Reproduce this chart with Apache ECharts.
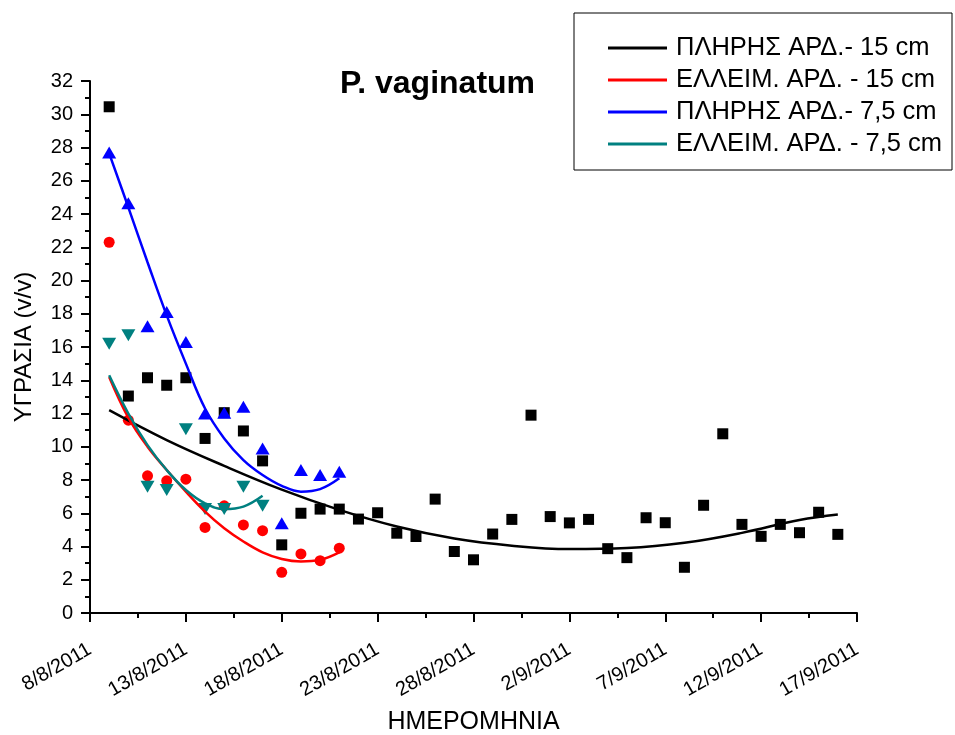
<!DOCTYPE html>
<html>
<head>
<meta charset="utf-8">
<script src="https://cdn.jsdelivr.net/npm/echarts@6/dist/echarts.min.js"></script>
<style>
  html, body { margin: 0; padding: 0; background: #fff; }
  #chart { width: 955px; height: 735px; }
</style>
</head>
<body>
<div id="chart"></div>
<script>
// Soil moisture (v/v) of P. vaginatum plots, daily readings from 9/8/2011.
const seriesNames = [
  'ΠΛΗΡΗΣ ΑΡΔ.- 15 cm',
  'ΕΛΛΕΙΜ. ΑΡΔ. - 15 cm',
  'ΠΛΗΡΗΣ ΑΡΔ.- 7,5 cm',
  'ΕΛΛΕΙΜ. ΑΡΔ. - 7,5 cm'
];
const seriesColors = ['#000000', '#ff0000', '#0000ff', '#008080'];

const tickLabels = ['8/8/2011', '13/8/2011', '18/8/2011', '23/8/2011', '28/8/2011',
                    '2/9/2011', '7/9/2011', '12/9/2011', '17/9/2011'];

// measurement dates (d/m, year 2011)
const datesLong = ['9/8','10/8','11/8','12/8','13/8','14/8','15/8','16/8','17/8','18/8',
  '19/8','20/8','21/8','22/8','23/8','24/8','25/8','26/8','27/8','28/8','29/8','30/8','31/8',
  '1/9','2/9','3/9','4/9','5/9','6/9','7/9','8/9','9/9','10/9','11/9','12/9','13/9','14/9','15/9','16/9'];
const datesShort = ['9/8','10/8','11/8','12/8','13/8','14/8','15/8','16/8','17/8','18/8','19/8','20/8','21/8'];
const datesTeal = ['9/8','10/8','11/8','12/8','13/8','14/8','15/8','16/8','17/8'];

// measured moisture
const fullIrr15 = [30.45, 13.05, 14.15, 13.7, 14.15, 10.5, 12.05, 10.95, 9.15, 4.1,
  6.0, 6.25, 6.25, 5.65, 6.03, 4.8, 4.6, 6.85, 3.7, 3.2, 4.75, 5.63, 11.9,
  5.8, 5.42, 5.63, 3.87, 3.33, 5.73, 5.43, 2.75, 6.48, 10.78, 5.33, 4.61, 5.33, 4.83, 6.06, 4.73];
const defIrr15 = [22.3, 11.6, 8.25, 7.95, 8.05, 5.15, 6.45, 5.3, 4.95, 2.45, 3.55, 3.15, 3.9];
const fullIrr75 = [27.7, 24.65, 17.25, 18.1, 16.3, 12.0, 12.05, 12.4, 9.9, 5.4, 8.6, 8.3, 8.5];
const defIrr75 = [16.2, 16.7, 7.6, 7.4, 11.05, 6.25, 6.25, 7.6, 6.45];

// trend curves
const fitDatesLong = ['9/8','12/8','15/8','18/8','21/8','24/8','27/8','30/8','2/9','5/9','8/9','11/9','14/9','16/9'];
const fitFull15 = [12.2, 10.4, 8.85, 7.42, 6.2, 5.2, 4.48, 4.05, 3.85, 3.91, 4.22, 4.82, 5.6, 5.93];
const fitDef15 = [14.2, 11.75, 10.0, 8.6, 7.3, 6.1, 5.1, 4.3, 3.65, 3.25, 3.1, 3.2, 3.65];
const fitFull75 = [27.65, 24.4, 21.1, 17.9, 15.0, 12.3, 10.5, 9.2, 8.3, 7.65, 7.3, 7.45, 8.1];
const fitDef75 = [14.3, 12.0, 10.1, 8.6, 7.4, 6.6, 6.25, 6.4, 7.05];

const FONT = '"Liberation Sans", Arial, sans-serif';

// days elapsed since 8/8/2011
function dayOffset(s) {
  const [d, m] = s.split('/').map(Number);
  return (Date.UTC(2011, m - 1, d) - Date.UTC(2011, 7, 8)) / 86400000;
}
function toPoints(dates, values) {
  return dates.map((d, i) => [dayOffset(d), values[i]]);
}

const pointSets = [
  { dates: datesLong, values: fullIrr15, symbol: 'rect', size: 11, rotate: 0 },
  { dates: datesShort, values: defIrr15, symbol: 'circle', size: 11, rotate: 0 },
  { dates: datesShort, values: fullIrr75, symbol: 'triangle', size: [14, 12], rotate: 0 },
  { dates: datesTeal, values: defIrr75, symbol: 'triangle', size: [14, 12], rotate: 180 }
];
const fitSets = [
  { dates: fitDatesLong, values: fitFull15 },
  { dates: datesShort, values: fitDef15 },
  { dates: datesShort, values: fitFull75 },
  { dates: datesTeal, values: fitDef75 }
];

const series = [];
pointSets.forEach((p, i) => {
  series.push({
    name: seriesNames[i] + ' (μετρήσεις)',
    type: 'scatter',
    data: toPoints(p.dates, p.values),
    symbol: p.symbol,
    symbolSize: p.size,
    symbolRotate: p.rotate,
    itemStyle: { color: seriesColors[i], opacity: 1 },
    emphasis: { disabled: true },
    z: 2
  });
});
fitSets.forEach((f, i) => {
  series.push({
    name: seriesNames[i],
    type: 'line',
    data: toPoints(f.dates, f.values),
    smooth: 0.4,
    showSymbol: false,
    symbol: 'none',
    color: seriesColors[i],
    lineStyle: { color: seriesColors[i], width: 2.5 },
    z: 3
  });
});

const chart = echarts.init(document.getElementById('chart'));
chart.setOption({
  animation: false,
  backgroundColor: '#ffffff',
  title: {
    text: 'P. vaginatum',
    left: 340,
    top: 68,
    padding: 0,
    textStyle: { fontFamily: FONT, fontSize: 32, fontWeight: 'bold', color: '#000' }
  },
  legend: {
    data: seriesNames,
    orient: 'vertical',
    left: 574,
    top: 13,
    selectedMode: false,
    icon: 'rect',
    itemWidth: 59,
    itemHeight: 3,
    itemGap: 6,
    padding: [22, 10, 13, 34],
    borderColor: '#000',
    borderWidth: 1,
    backgroundColor: '#fff',
    textStyle: { fontFamily: FONT, fontSize: 25.5, color: '#000', padding: [0, 0, 0, 4] }
  },
  grid: { left: 90, right: 98, top: 81, bottom: 122, containLabel: false, outerBoundsMode: 'none' },
  xAxis: {
    type: 'value',
    min: 0,
    max: 40,
    interval: 5,
    name: 'ΗΜΕΡΟΜΗΝΙΑ',
    nameLocation: 'middle',
    nameGap: 97,
    nameTextStyle: { fontFamily: FONT, fontSize: 25, color: '#000' },
    axisLine: { lineStyle: { color: '#000', width: 2 } },
    axisTick: { length: 9, lineStyle: { color: '#000', width: 2 } },
    minorTick: { show: true, splitNumber: 2, length: 5, lineStyle: { color: '#000', width: 2 } },
    splitLine: { show: false },
    axisLabel: {
      rotate: 30,
      margin: 35,
      fontFamily: FONT,
      fontSize: 20,
      color: '#000',
      formatter: v => tickLabels[Math.round(v / 5)]
    }
  },
  yAxis: {
    type: 'value',
    min: 0,
    max: 32,
    interval: 2,
    name: 'ΥΓΡΑΣΙΑ (v/v)',
    nameLocation: 'middle',
    nameGap: 54,
    nameTextStyle: { fontFamily: FONT, fontSize: 24, color: '#000' },
    axisLine: { show: true, lineStyle: { color: '#000', width: 2 } },
    axisTick: { length: 9, lineStyle: { color: '#000', width: 2 } },
    minorTick: { show: true, splitNumber: 2, length: 5, lineStyle: { color: '#000', width: 2 } },
    splitLine: { show: false },
    axisLabel: { margin: 17, fontFamily: FONT, fontSize: 20, color: '#000' }
  },
  series: series
});
</script>
</body>
</html>
